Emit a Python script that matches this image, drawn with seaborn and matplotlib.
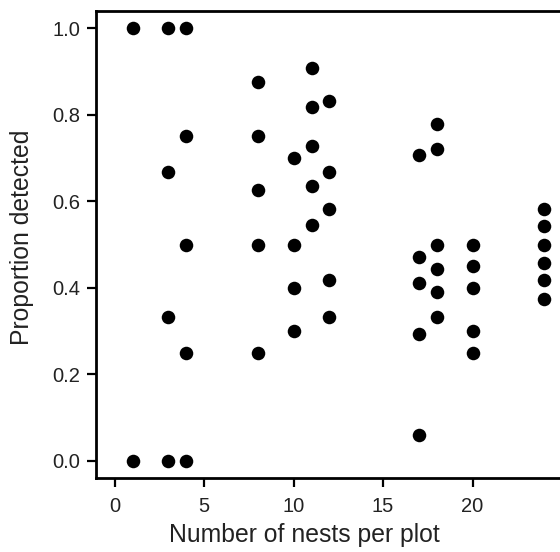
import matplotlib
matplotlib.use("Agg")
import matplotlib.pyplot as plt
import seaborn as sns
import pandas as pd

sns.set_theme(style="white")
plt.rcParams['font.family'] = ['Liberation Sans', 'DejaVu Sans']

nests = [1, 1,
         3, 3, 3, 3,
         4, 4, 4, 4, 4,
         8, 8, 8, 8, 8,
         10, 10, 10, 10,
         11, 11, 11, 11, 11,
         12, 12, 12, 12, 12,
         17, 17, 17, 17, 17,
         18, 18, 18, 18, 18, 18,
         20, 20, 20, 20, 20,
         24, 24, 24, 24, 24, 24]
detected = [1.0, 0.0,
            1.0, 0.667, 0.333, 0.0,
            1.0, 0.75, 0.5, 0.25, 0.0,
            0.875, 0.75, 0.625, 0.5, 0.25,
            0.7, 0.5, 0.4, 0.3,
            0.909, 0.818, 0.727, 0.636, 0.545,
            0.833, 0.667, 0.583, 0.417, 0.333,
            0.706, 0.471, 0.412, 0.294, 0.059,
            0.778, 0.722, 0.5, 0.444, 0.389, 0.333,
            0.5, 0.45, 0.4, 0.3, 0.25,
            0.583, 0.542, 0.5, 0.458, 0.417, 0.375]
x_ticks = [0, 5, 10, 15, 20]
y_ticks = [0.0, 0.2, 0.4, 0.6, 0.8, 1.0]

df = pd.DataFrame({"nests": nests, "detected": detected})

fig = plt.figure(figsize=(5.6, 5.52), dpi=100)
ax = fig.add_axes([96/560, (552-478)/552, (580-96)/560, (478-11)/552])
sns.scatterplot(data=df, x="nests", y="detected", ax=ax, s=95, color="black",
                edgecolor="black", linewidth=0, clip_on=False)
ax.set_xlim(-1.04, 26)
ax.set_ylim(-0.04, 1.04)
ax.set_xticks(x_ticks)
ax.set_xticklabels([str(t) for t in x_ticks])
ax.set_yticks(y_ticks)
ax.set_yticklabels([f"{t:.1f}" for t in y_ticks])
for sp in ax.spines.values():
    sp.set_linewidth(2.0)
    sp.set_color("black")
ax.tick_params(axis="both", which="major", length=6.5, width=1.6, color="black",
               labelsize=14.5, pad=5, left=True, bottom=True, labelcolor="#222222")
ax.tick_params(axis="x", pad=7)
ax.set_xlabel("Number of nests per plot", fontsize=17.8, color="#222222")
ax.set_ylabel("Proportion detected", fontsize=17.8, color="#222222")
ax.xaxis.set_label_coords(0.43, -0.097)
ax.yaxis.set_label_coords(-0.128, 0.516)
fig.savefig("out.png", dpi=100)
